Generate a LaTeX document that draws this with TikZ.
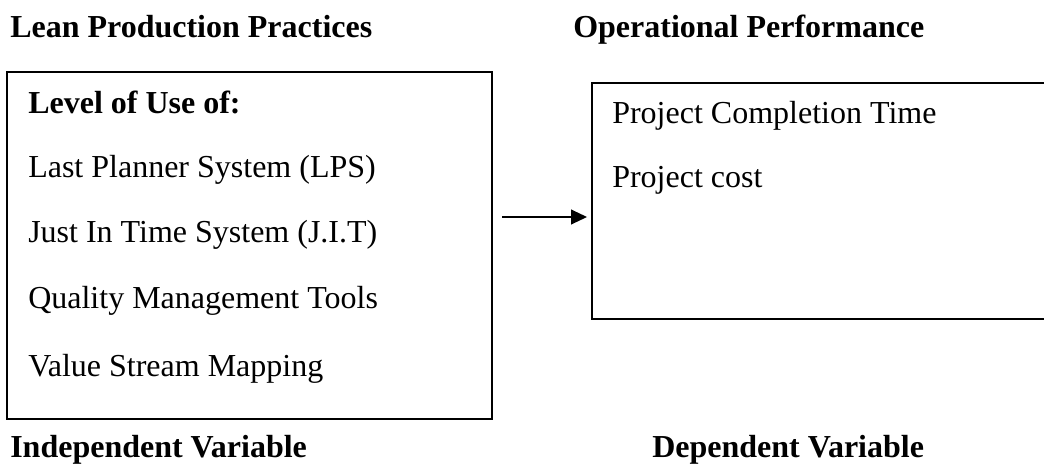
\documentclass[tikz,border=0pt]{standalone}
\usepackage{fontspec}
\setmainfont{Liberation Serif}
\usepackage{tikz}
\usetikzlibrary{arrows.meta, positioning}
\newcommand{\diagfont}{\fontsize{24pt}{28}\selectfont}
\tikzstyle{varbox} = [rectangle, draw=black, line width=1.4pt, inner sep=0pt]
\tikzstyle{heading} = [anchor=base west, inner sep=0pt, font=\diagfont\bfseries]
\tikzstyle{item} = [anchor=base west, inner sep=0pt, font=\diagfont]
\tikzstyle{arrow} = [line width=1.4pt, -{Triangle[length=12pt, width=11pt]}, shorten >=3pt]

\begin{document}
\begin{tikzpicture}[x=0.75pt, y=-0.75pt]
    \useasboundingbox (0,0) rectangle (1044,468);

    \node (practices) [varbox, minimum width=363.75pt, minimum height=260.25pt] at (249.5,245.5) {};
    \node (outcome) [varbox, minimum width=352.5pt, minimum height=177pt] at (827,201) {};

    \node (lean) [heading] at (10,37) {Lean Production Practices};
    \node (operational) [heading] at (573,37) {Operational Performance};
    \node (independent) [heading] at (10,457) {Independent Variable};
    \node (dependent) [heading] at (652,457) {Dependent Variable};

    \node (level) [heading] at (28,113) {Level of Use of:};
    \node (lps) [item] at (28,177) {Last Planner System (LPS)};
    \node (jit) [item] at (28,242) {Just In Time System (J.I.T)};
    \node (quality) [item] at (28,308) {Quality Management Tools};
    \node (vsm) [item] at (28,376) {Value Stream Mapping};

    \node (time) [item] at (612,123) {Project Completion Time};
    \node (cost) [item] at (612,187) {Project cost};

    \coordinate (cause) at (502,217);
    \draw [arrow] (cause) -- (cause -| outcome.west);
\end{tikzpicture}
\end{document}
